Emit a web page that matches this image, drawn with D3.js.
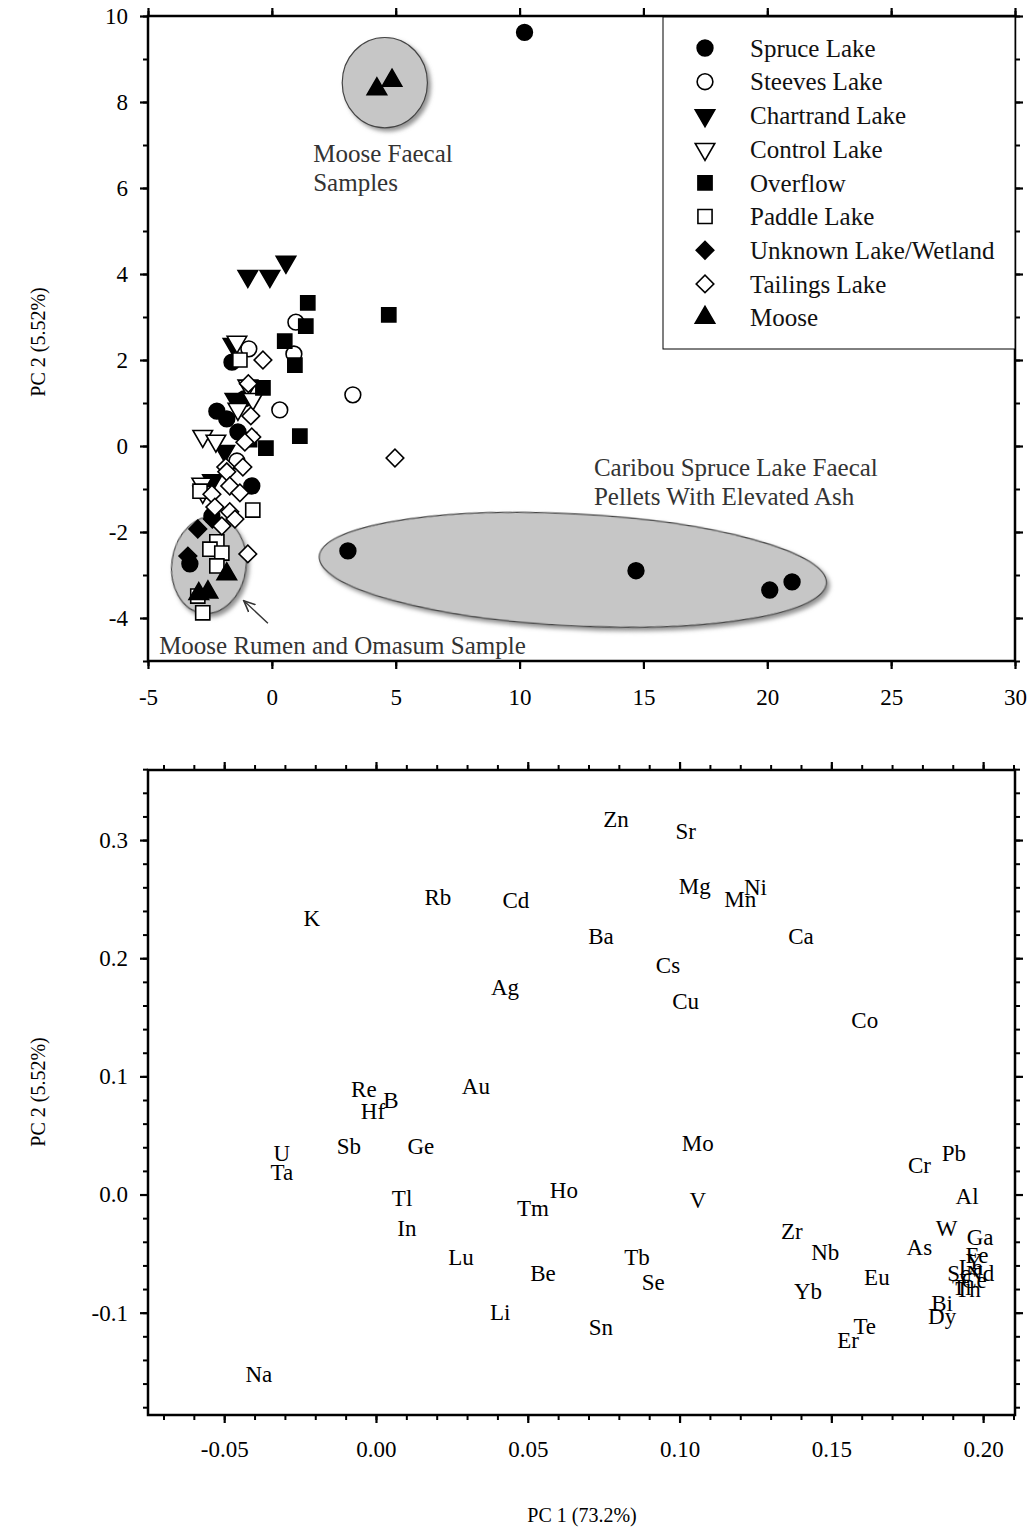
<!DOCTYPE html>
<html>
<head>
<meta charset="utf-8">
<script src="https://cdn.jsdelivr.net/npm/d3@7"></script>
<style>
body { margin: 0; background: #fff; }
text { font-family: "Liberation Serif", "Times New Roman", serif; }
</style>
</head>
<body>
<svg id="chart" width="1030" height="1527"></svg>
<script>
// ---- scores (PC1, PC2) ----
const spruceLake = [[10.2, 9.62], [3.07, -2.44], [14.7, -2.9], [20.1, -3.35], [21.0, -3.16],
  [-1.61, 1.95], [-2.22, 0.81], [-1.82, 0.63], [-1.37, 0.33], [-0.81, -0.93], [-3.31, -2.74],
  [-2.42, -1.63], [-1.1, 1.1]];
const steevesLake = [[0.97, 2.88], [0.89, 2.14], [0.32, 0.84], [-0.93, 2.26], [3.27, 1.19], [-1.41, -0.35]];
const chartrandLake = [[-0.97, 3.95], [-0.08, 3.95], [0.57, 4.28], [-1.57, 2.37], [-1.49, 1.09],
  [-1.9, -0.12], [-2.4, -0.8]];
const controlLake = [[-1.41, 2.42], [-0.97, 1.4], [-1.37, 0.86], [-2.79, 0.23], [-2.26, 0.12],
  [-0.77, 1.09], [-2.83, -0.88], [-2.79, -1.07]];
const overflow = [[1.45, 3.33], [1.37, 2.79], [0.52, 2.44], [0.93, 1.88], [-0.36, 1.35],
  [1.13, 0.23], [-0.24, -0.05], [4.72, 3.05], [-0.9, 0.15]];
const paddleLake = [[-1.29, 2.0], [-0.77, -1.49], [-2.22, -2.23], [-2.5, -2.4], [-2.02, -2.49],
  [-2.22, -2.79], [-2.99, -3.49], [-2.79, -3.88], [-2.9, -1.05]];
const unknownLake = [[-2.99, -1.93], [-3.39, -2.56], [-2.4, -1.7]];
const tailingsLake = [[4.97, -0.28], [-0.36, 2.0], [-0.85, 0.7], [-0.81, 0.21], [-1.09, 0.09],
  [-1.86, -0.49], [-1.17, -0.49], [-1.82, -0.6], [-2.42, -1.12], [-1.7, -0.93], [-1.29, -1.09],
  [-1.7, -1.53], [-2.3, -1.42], [-1.49, -1.7], [-2.02, -1.86], [-0.97, -2.51], [-0.95, 1.45]];
const moose = [[4.24, 8.3], [4.85, 8.5], [-1.82, -2.98], [-2.58, -3.4], [-2.95, -3.44]];

const seriesNames = ["Spruce Lake", "Steeves Lake", "Chartrand Lake", "Control Lake", "Overflow",
  "Paddle Lake", "Unknown Lake/Wetland", "Tailings Lake", "Moose"];
const seriesData = [spruceLake, steevesLake, chartrandLake, controlLake, overflow,
  paddleLake, unknownLake, tailingsLake, moose];
const seriesShape = ["circle", "circle", "triDown", "triDown", "square", "square", "diamond", "diamond", "triUp"];
const seriesFilled = [true, false, true, false, true, false, true, false, true];

// ---- loadings ----
const elements = ["Zn", "Sr", "Mg", "Mn", "Ni", "Rb", "Cd", "K", "Ba", "Ca", "Cs", "Ag", "Cu", "Co",
  "Au", "Re", "B", "Hf", "Mo", "Sb", "Ge", "U", "Ta", "Pb", "Cr", "Al", "Ho", "Tl", "Tm", "V",
  "In", "W", "Ga", "Zr", "Nb", "As", "Lu", "Tb", "Fe", "Y", "Sc", "Nd", "La", "Be", "Eu", "Se",
  "Ce", "Ti", "Th", "Yb", "Bi", "Dy", "Li", "Sn", "Te", "Er", "Na"];
const pc1Load = [0.0791, 0.102, 0.105, 0.120, 0.125, 0.0204, 0.0461, -0.0211, 0.0741, 0.140, 0.0962,
  0.0425, 0.102, 0.161, 0.0329, -0.004, 0.0049, -0.001, 0.106, -0.0089, 0.0148, -0.031, -0.031,
  0.1904, 0.179, 0.1947, 0.0619, 0.0086, 0.0517, 0.106, 0.0102, 0.188, 0.199, 0.137, 0.148, 0.179,
  0.028, 0.086, 0.198, 0.197, 0.192, 0.199, 0.196, 0.055, 0.165, 0.0913, 0.197, 0.193, 0.195,
  0.1423, 0.1865, 0.1865, 0.0409, 0.0741, 0.161, 0.1555, -0.0386];
const pc2Load = [0.318, 0.308, 0.261, 0.250, 0.260, 0.252, 0.249, 0.234, 0.219, 0.219, 0.194,
  0.176, 0.164, 0.148, 0.0915, 0.089, 0.080, 0.071, 0.044, 0.0415, 0.0415, 0.0356, 0.0195,
  0.0356, 0.0254, -0.001, 0.004, -0.0025, -0.011, -0.005, -0.028, -0.028, -0.036, -0.0305, -0.049,
  -0.044, -0.0525, -0.0525, -0.051, -0.056, -0.066, -0.066, -0.061, -0.066, -0.070, -0.0737,
  -0.072, -0.078, -0.080, -0.082, -0.0915, -0.1025, -0.099, -0.112, -0.111, -0.123, -0.152];

const topXTicks = [-5, 0, 5, 10, 15, 20, 25, 30];
const topYTicks = [-4, -2, 0, 2, 4, 6, 8, 10];
const botXTicks = [-0.05, 0.00, 0.05, 0.10, 0.15, 0.20];
const botYTicks = [-0.1, 0.0, 0.1, 0.2, 0.3];

const svg = d3.select("#chart");
const W = 867, H = 645;

// drop shadow for the grey ellipses
const defs = svg.append("defs");
defs.append("filter").attr("id", "shadow").attr("x", "-20%").attr("y", "-20%")
  .attr("width", "140%").attr("height", "140%")
  .append("feDropShadow").attr("dx", 3).attr("dy", 3).attr("stdDeviation", 2)
  .attr("flood-color", "#777").attr("flood-opacity", 0.8);
defs.append("marker").attr("id", "arrow").attr("viewBox", "0 0 10 10")
  .attr("refX", 9).attr("refY", 5).attr("markerWidth", 9).attr("markerHeight", 9)
  .attr("orient", "auto")
  .append("path").attr("d", "M0,1 L9,5 L0,9").attr("fill", "none").attr("stroke", "#333").attr("stroke-width", 1.3);

function hyphen(f) { return d => f(d).replace("\u2212", "-"); }

function frameAxes(g, x, y, o) {
  // minor ticks on all four sides
  const minor = [
    [d3.axisBottom(x).tickValues(o.xMinor), "translate(0," + H + ")"],
    [d3.axisTop(x).tickValues(o.xMinor), null],
    [d3.axisLeft(y).tickValues(o.yMinor), null],
    [d3.axisRight(y).tickValues(o.yMinor), "translate(" + W + ",0)"]
  ];
  minor.forEach(function (m) {
    const a = g.append("g").call(m[0].tickSize(5).tickFormat(""));
    if (m[1]) a.attr("transform", m[1]);
    a.select(".domain").remove();
    a.selectAll("line").attr("stroke-width", 2);
  });
  const major = [
    [d3.axisBottom(x).tickValues(o.xTicks).tickFormat(hyphen(o.xFmt)).tickPadding(o.xPad), "translate(0," + H + ")"],
    [d3.axisTop(x).tickValues(o.xTicks).tickFormat(""), null],
    [d3.axisLeft(y).tickValues(o.yTicks).tickFormat(hyphen(o.yFmt)).tickPadding(12), null],
    [d3.axisRight(y).tickValues(o.yTicks).tickFormat(""), "translate(" + W + ",0)"]
  ];
  major.forEach(function (m) {
    const a = g.append("g").call(m[0].tickSize(8));
    if (m[1]) a.attr("transform", m[1]);
    a.select(".domain").remove();
    a.selectAll("line").attr("stroke-width", 2.2);
    a.selectAll("text").style("font-size", "23px").attr("fill", "#000")
      .style("font-family", "'Liberation Serif', 'Times New Roman', serif");
  });
  g.append("rect").attr("width", W).attr("height", H)
    .attr("fill", "none").attr("stroke", "#000").attr("stroke-width", 2.5);
}

function symbolPath(shape) {
  if (shape === "circle") return d3.symbol(d3.symbolCircle, 195)();
  if (shape === "square") return d3.symbol(d3.symbolSquare, 200)();
  if (shape === "diamond") return d3.symbol(d3.symbolSquare, 155)();
  return d3.symbol(d3.symbolTriangle, 165)();
}
function symbolRotate(shape) {
  if (shape === "diamond") return 45;
  if (shape === "triDown") return 180;
  return 0;
}
function drawSymbol(g, shape, filled, px, py) {
  g.append("path").attr("d", symbolPath(shape))
    .attr("transform", "translate(" + px + "," + py + ") rotate(" + symbolRotate(shape) + ")")
    .attr("fill", filled ? "#000" : "#fff")
    .attr("stroke", "#000").attr("stroke-width", 1.6);
}

// ================= top panel: scores =================
const topG = svg.append("g").attr("transform", "translate(148,16)");
const x1 = d3.scaleLinear().domain([-5, 30]).range([0, W]);
const y1 = d3.scaleLinear().domain([-5, 10]).range([H, 0]);

// grey ellipses: [cx, cy, rx, ry, angle] in data units
const ellipses = [[4.56, 8.45, 1.72, 1.05, 0], [12.15, -2.88, 10.25, 1.3, 3], [-2.54, -2.77, 1.5, 1.13, 8]];
ellipses.forEach(function (e) {
  topG.append("ellipse")
    .attr("cx", x1(e[0])).attr("cy", y1(e[1]))
    .attr("rx", x1(e[2]) - x1(0)).attr("ry", y1(0) - y1(e[3]))
    .attr("transform", "rotate(" + e[4] + "," + x1(e[0]) + "," + y1(e[1]) + ")")
    .attr("fill", "#c6c6c6").attr("stroke", "#444").attr("stroke-width", 1.2)
    .attr("filter", "url(#shadow)");
});

seriesData.forEach(function (pts, i) {
  const layer = topG.append("g");
  pts.forEach(function (p) {
    drawSymbol(layer, seriesShape[i], seriesFilled[i], x1(p[0]), y1(p[1]));
  });
});

// annotations
const notes = [
  [["Moose Faecal", "Samples"], 1.67, 6.6],
  [["Caribou Spruce Lake Faecal", "Pellets With Elevated Ash"], 13.0, -0.7],
  [["Moose Rumen and Omasum Sample"], -4.55, -4.84]
];
notes.forEach(function (n) {
  const t = topG.append("text").attr("x", x1(n[1])).attr("y", y1(n[2]))
    .style("font-size", "25px").attr("fill", "#333");
  n[0].forEach(function (line, k) {
    t.append("tspan").attr("x", x1(n[1])).attr("dy", k === 0 ? 0 : 29).text(line);
  });
});
topG.append("line")
  .attr("x1", x1(-0.16)).attr("y1", y1(-4.12))
  .attr("x2", x1(-1.13)).attr("y2", y1(-3.6))
  .attr("stroke", "#333").attr("stroke-width", 1.4).attr("marker-end", "url(#arrow)");

frameAxes(topG, x1, y1, {
  xTicks: topXTicks, xMinor: topXTicks, yTicks: topYTicks, yMinor: d3.range(-5, 11, 1),
  xFmt: d3.format("d"), yFmt: d3.format("d"), xPad: 20
});

// legend
const leg = topG.append("g").attr("transform", "translate(515,1)");
leg.append("rect").attr("width", 352).attr("height", 332)
  .attr("fill", "#fff").attr("stroke", "#000").attr("stroke-width", 1);
seriesNames.forEach(function (name, i) {
  const cy = 31 + i * 33.7;
  drawSymbol(leg, seriesShape[i], seriesFilled[i], 42, cy);
  leg.append("text").attr("x", 87).attr("y", cy).attr("dy", "0.35em")
    .style("font-size", "25px").attr("fill", "#111").text(name);
});

// ================= bottom panel: loadings =================
const botG = svg.append("g").attr("transform", "translate(148,770)");
const x2 = d3.scaleLinear().domain([-0.0751, 0.2105]).range([0, W]);
const y2 = d3.scaleLinear().domain([-0.1866, 0.3593]).range([H, 0]);

botG.selectAll("text.el").data(elements).enter().append("text")
  .attr("class", "el")
  .attr("x", (d, i) => x2(pc1Load[i]))
  .attr("y", (d, i) => y2(pc2Load[i]))
  .attr("text-anchor", "middle").attr("dy", "0.35em")
  .style("font-size", "23px").attr("fill", "#000")
  .text(d => d);

frameAxes(botG, x2, y2, {
  xTicks: botXTicks, xMinor: d3.range(-0.07, 0.2101, 0.01), yTicks: botYTicks,
  yMinor: d3.range(-0.18, 0.3601, 0.02), xFmt: d3.format(".2f"), yFmt: d3.format(".1f"), xPad: 18
});

// axis titles
[342, 1092].forEach(function (cy) {
  svg.append("text").attr("transform", "translate(38," + cy + ") rotate(-90)")
    .attr("text-anchor", "middle").attr("dy", "0.35em")
    .style("font-size", "20px").text("PC 2 (5.52%)");
});
svg.append("text").attr("x", 582).attr("y", 1515).attr("text-anchor", "middle").attr("dy", "0.35em")
  .style("font-size", "20px").text("PC 1 (73.2%)");
</script>
</body>
</html>
